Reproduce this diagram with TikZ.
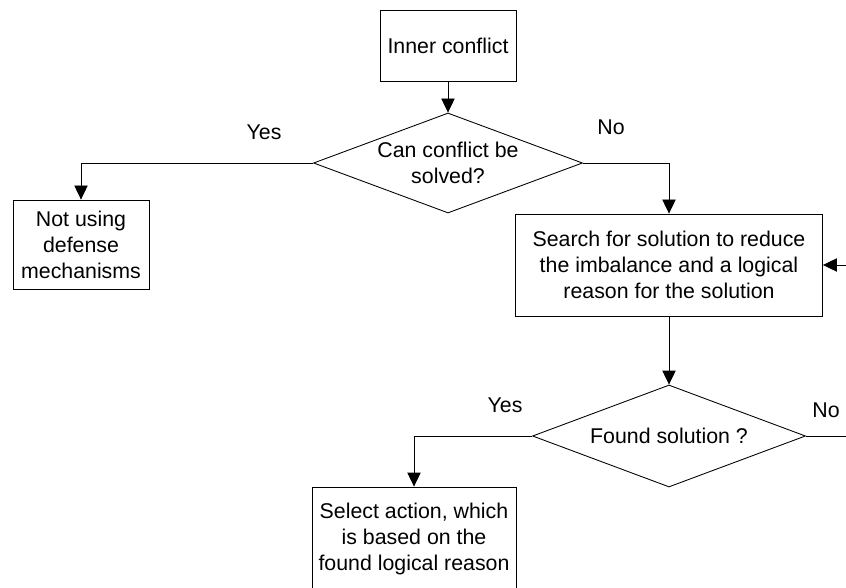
\documentclass[tikz,border=0pt]{standalone}
\usepackage{fontspec}
\setmainfont{Liberation Sans}
\usetikzlibrary{shapes.geometric,arrows.meta}

\begin{document}
\begin{tikzpicture}[x=0.75pt,y=-0.75pt,
  txt/.style={font=\fontsize{16}{19.5}\selectfont, align=center, inner sep=0pt},
  box/.style={draw, rectangle, line width=0.65pt, txt},
  dia/.style={draw, diamond, line width=0.65pt, inner sep=0pt},
  lbl/.style={font=\fontsize{16}{19.5}\selectfont, inner sep=0pt},
  arr/.style={line width=0.65pt, -{Triangle[length=10.5pt,width=10pt]}}]

\useasboundingbox (0,0) rectangle (846,588);
\clip (0,0) rectangle (846,588);

% process boxes (sizes in pt: 0.75pt per unit)
\node[box, minimum width=102pt, minimum height=53.25pt] (inner) at (448,45.5) {Inner conflict};
\node[box, minimum width=102pt, minimum height=66.75pt] (nouse) at (81,244.5) {Not using\\defense\\mechanisms};
\node[box, minimum width=230.25pt, minimum height=76.5pt] (search) at (669,265) {Search for solution to reduce\\the imbalance and a logical\\reason for the solution};
\node[box, minimum width=153pt, minimum height=77.25pt] (select) at (414,538.5) {Select action, which\\is based on the\\found logical reason};

% decisions
\node[dia, minimum width=201.75pt, minimum height=75pt] (d1) at (448,163) {};
\node[txt] (d1t) at (d1) {Can conflict be\\solved?};
\node[dia, minimum width=204.75pt, minimum height=76.5pt] (d2) at (669,436) {};
\node[txt] (d2t) at (d2) {Found solution ?};

% branch labels
\node[lbl] (y1) at (264,132) {Yes};
\node[lbl] (n1) at (611,127) {No};
\node[lbl] (y2) at (505,405) {Yes};
\node[lbl] (n2) at (826,410) {No};

% return path along the right side
\coordinate (rc) at (852,436);

% connectors
\draw[arr] (inner) -- (d1);
\draw[arr] (d1.west) -| (nouse);
\draw[arr] (d1.east) -| (search);
\draw[arr] (search) -- (d2);
\draw[arr] (d2.west) -| (select);
\draw[arr] (d2.east) -- (rc) |- (search.east);

\end{tikzpicture}
\end{document}
